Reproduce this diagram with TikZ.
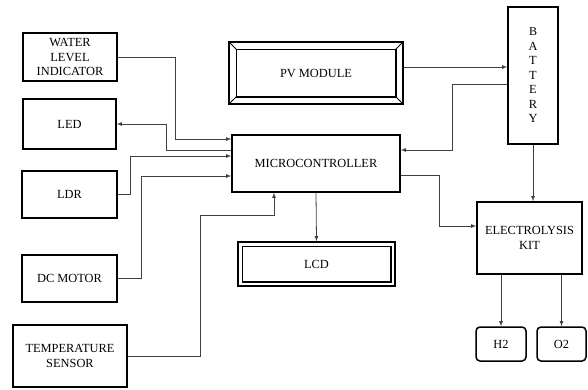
\documentclass[tikz,border=0pt]{standalone}
\usepackage{fontspec}
\setmainfont{Liberation Serif}
\begin{document}
\begin{tikzpicture}[>=latex, x=1pt, y=-1pt,
    box/.style={draw, line width=1.5pt, align=center, inner sep=1pt,
        font=\fontsize{12.4}{14.5}\selectfont},
    link/.style={->, line width=.8pt, draw=black!75}]
    \useasboundingbox (0,0) rectangle (588,389);
    % left column
    \node[box, minimum width=94pt, minimum height=48pt] (water) at (70,57) {WATER\\LEVEL\\INDICATOR};
    \node[box, minimum width=93pt, minimum height=50pt] (led) at (69.5,124) {LED};
    \node[box, minimum width=95pt, minimum height=47pt] (ldr) at (69.5,194.5) {LDR};
    \node[box, minimum width=95pt, minimum height=47pt] (motor) at (69.5,278.5) {DC MOTOR};
    \node[box, minimum width=114pt, minimum height=62pt] (temp) at (70,356) {TEMPERATURE\\SENSOR};
    % middle
    \node[box, minimum width=174pt, minimum height=62pt] (pv) at (316,73) {PV MODULE};
    \draw[line width=1.5pt] ([shift={(8,8)}]pv.north west) rectangle ([shift={(-8,-8)}]pv.south east);
    \foreach \c/\s in {north west/{(8,8)}, north east/{(-8,8)}, south west/{(8,-8)}, south east/{(-8,-8)}}
        \draw[line width=1pt] (pv.\c) -- ([shift=\s]pv.\c);
    \node[box, minimum width=168pt, minimum height=57pt] (mcu) at (316,163.5) {MICROCONTROLLER};
    \node[box, minimum width=157pt, minimum height=44pt] (lcd) at (316.5,264) {LCD};
    \draw[line width=1.5pt] ([shift={(5,5)}]lcd.north west) rectangle ([shift={(-5,-5)}]lcd.south east);
    % right
    \node[box, minimum width=50pt, minimum height=137pt] (battery) at (533,75.5)
        {\fontsize{12}{14.8}\selectfont B\\A\\T\\T\\E\\R\\Y};
    \node[box, minimum width=105pt, minimum height=72pt] (kit) at (529.5,238) {ELECTROLYSIS\\KIT};
    \node[box, rounded corners=4pt, minimum width=50pt, minimum height=34pt] (htwo) at (501,344) {H2};
    \node[box, rounded corners=4pt, minimum width=49pt, minimum height=34pt] (otwo) at (561.5,344) {O2};

    \draw[link] (water.east) -- ++(58,0) |- ([yshift=24.5pt]mcu.west);
    \draw[link] ([yshift=13.5pt]mcu.west) -- ++(-65,0) |- (led.east);
    \draw[link] (ldr.east) -- ++(13,0) |- ([yshift=7.5pt]mcu.west);
    \draw[link] (motor.east) -- ++(24,0) |- ([yshift=-12.5pt]mcu.west);
    \draw[link] (temp.east) -- ++(73,0) |- ([xshift=-42pt,yshift=-23pt]mcu.south) -- ([xshift=-42pt]mcu.south);
    \draw[link] (mcu.south) -- (lcd.north);
    \draw[link] ([yshift=6pt]pv.east) -- ([yshift=6pt]pv.east -| battery.west);
    \draw[link] ([yshift=-8.5pt]battery.west) -- ++(-55,0) |- ([yshift=13.5pt]mcu.east);
    \draw[link] ([yshift=-11.5pt]mcu.east) -- ++(39,0) |- ([yshift=12pt]kit.west);
    \draw[link] (battery.south) -- (battery.south |- kit.north);
    \draw[link] (kit.south -| htwo.north) -- (htwo.north);
    \draw[link] (kit.south -| otwo.north) -- (otwo.north);
\end{tikzpicture}
\end{document}
